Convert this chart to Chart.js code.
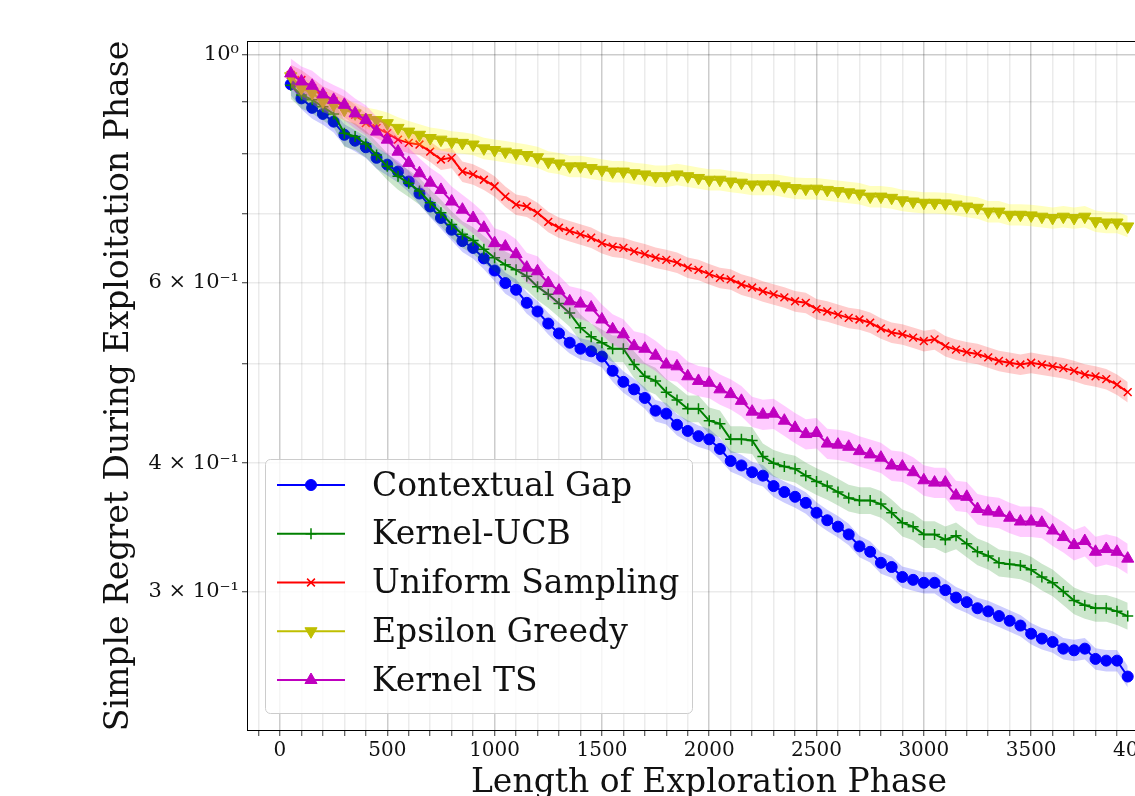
<!DOCTYPE html>
<html>
<head>
<meta charset="utf-8">
<script src="https://cdn.jsdelivr.net/npm/chart.js@4.4.1/dist/chart.umd.min.js"></script>
<style>
  html, body { margin: 0; padding: 0; background: #fff; overflow: hidden; }
  #wrap { width: 1180px; height: 800px; }
</style>
</head>
<body>
<div id="wrap"><canvas id="regretChart" width="1180" height="800"></canvas></div>
<script>
// length of exploration phase (x values)
const exploreLen = [
  50, 100, 150, 200, 250, 300, 350, 400, 450, 500,
  550, 600, 650, 700, 750, 800, 850, 900, 950, 1000,
  1050, 1100, 1150, 1200, 1250, 1300, 1350, 1400, 1450, 1500,
  1550, 1600, 1650, 1700, 1750, 1800, 1850, 1900, 1950, 2000,
  2050, 2100, 2150, 2200, 2250, 2300, 2350, 2400, 2450, 2500,
  2550, 2600, 2650, 2700, 2750, 2800, 2850, 2900, 2950, 3000,
  3050, 3100, 3150, 3200, 3250, 3300, 3350, 3400, 3450, 3500,
  3550, 3600, 3650, 3700, 3750, 3800, 3850, 3900, 3950
];

// simple regret
const contextualGap = [
  0.935, 0.906, 0.887, 0.875, 0.860, 0.835, 0.824, 0.812, 0.793, 0.781,
  0.769, 0.752, 0.732, 0.711, 0.693, 0.675, 0.658, 0.648, 0.633, 0.616,
  0.599, 0.590, 0.573, 0.562, 0.547, 0.535, 0.524, 0.517, 0.514, 0.508,
  0.492, 0.480, 0.472, 0.463, 0.450, 0.447, 0.436, 0.430, 0.425, 0.422,
  0.413, 0.402, 0.398, 0.392, 0.389, 0.380, 0.375, 0.371, 0.366, 0.358,
  0.352, 0.347, 0.341, 0.332, 0.328, 0.320, 0.317, 0.310, 0.308, 0.306,
  0.306, 0.301, 0.296, 0.293, 0.289, 0.287, 0.284, 0.281, 0.278, 0.273,
  0.270, 0.268, 0.264, 0.263, 0.264, 0.258, 0.257, 0.257, 0.248
];
const kernelUCB = [
  0.933, 0.913, 0.903, 0.889, 0.875, 0.838, 0.832, 0.818, 0.798, 0.778,
  0.761, 0.749, 0.736, 0.717, 0.701, 0.683, 0.668, 0.659, 0.646, 0.634,
  0.624, 0.617, 0.608, 0.594, 0.584, 0.572, 0.560, 0.542, 0.531, 0.524,
  0.517, 0.517, 0.499, 0.486, 0.481, 0.469, 0.461, 0.452, 0.452, 0.440,
  0.437, 0.422, 0.422, 0.421, 0.406, 0.400, 0.397, 0.395, 0.389, 0.384,
  0.380, 0.375, 0.370, 0.368, 0.368, 0.365, 0.358, 0.350, 0.347, 0.341,
  0.341, 0.337, 0.340, 0.334, 0.328, 0.325, 0.320, 0.319, 0.318, 0.315,
  0.310, 0.306, 0.300, 0.294, 0.291, 0.289, 0.289, 0.287, 0.284
];
const uniformSampling = [
  0.955, 0.944, 0.927, 0.910, 0.900, 0.889, 0.873, 0.857, 0.848, 0.838,
  0.826, 0.820, 0.817, 0.804, 0.790, 0.793, 0.769, 0.764, 0.755, 0.744,
  0.727, 0.714, 0.711, 0.701, 0.687, 0.678, 0.673, 0.668, 0.663, 0.655,
  0.650, 0.648, 0.643, 0.639, 0.634, 0.631, 0.627, 0.620, 0.617, 0.611,
  0.606, 0.604, 0.597, 0.593, 0.588, 0.584, 0.580, 0.575, 0.573, 0.565,
  0.562, 0.558, 0.554, 0.552, 0.548, 0.541, 0.536, 0.534, 0.530, 0.526,
  0.528, 0.520, 0.516, 0.513, 0.511, 0.507, 0.503, 0.501, 0.499, 0.501,
  0.499, 0.497, 0.495, 0.492, 0.488, 0.486, 0.483, 0.477, 0.469
];
const epsilonGreedy = [
  0.952, 0.927, 0.917, 0.900, 0.893, 0.883, 0.876, 0.867, 0.863, 0.857,
  0.848, 0.841, 0.835, 0.829, 0.826, 0.822, 0.820, 0.817, 0.810, 0.807,
  0.804, 0.801, 0.798, 0.794, 0.786, 0.783, 0.778, 0.778, 0.775, 0.772,
  0.769, 0.769, 0.766, 0.764, 0.761, 0.761, 0.764, 0.761, 0.758, 0.755,
  0.755, 0.752, 0.750, 0.747, 0.747, 0.747, 0.744, 0.741, 0.740, 0.740,
  0.738, 0.736, 0.734, 0.732, 0.727, 0.727, 0.725, 0.721, 0.719, 0.717,
  0.717, 0.716, 0.714, 0.711, 0.709, 0.703, 0.703, 0.698, 0.698, 0.697,
  0.695, 0.693, 0.695, 0.693, 0.695, 0.688, 0.686, 0.686, 0.680
];
const kernelTS = [
  0.958, 0.941, 0.932, 0.914, 0.903, 0.893, 0.876, 0.863, 0.841, 0.826,
  0.804, 0.784, 0.766, 0.750, 0.738, 0.719, 0.706, 0.693, 0.678, 0.655,
  0.650, 0.639, 0.620, 0.615, 0.599, 0.589, 0.575, 0.572, 0.567, 0.552,
  0.540, 0.534, 0.520, 0.517, 0.509, 0.499, 0.497, 0.486, 0.481, 0.479,
  0.472, 0.467, 0.460, 0.449, 0.446, 0.447, 0.440, 0.433, 0.427, 0.428,
  0.418, 0.417, 0.415, 0.411, 0.408, 0.405, 0.398, 0.397, 0.392, 0.385,
  0.383, 0.383, 0.372, 0.371, 0.361, 0.359, 0.358, 0.354, 0.351, 0.351,
  0.350, 0.344, 0.339, 0.333, 0.336, 0.328, 0.330, 0.328, 0.323
];

const seriesNames = ["Contextual Gap", "Kernel-UCB", "Uniform Sampling", "Epsilon Greedy", "Kernel TS"];
const seriesValues = [contextualGap, kernelUCB, uniformSampling, epsilonGreedy, kernelTS];
// relative half-width of the shaded band of each series
const bandSpread = [0.024, 0.03, 0.023, 0.024, 0.034];

const xTickLabels = [0, 500, 1000, 1500, 2000, 2500, 3000, 3500, 4000];
const yTickValues = [0.3, 0.4, 0.5, 0.6, 0.7, 0.8, 0.9, 1.0];
const yTickText = ["3 × 10⁻¹", "4 × 10⁻¹", "", "6 × 10⁻¹", "", "", "", "10⁰"];

const looks = [
  { color: "#0000ff", band: "rgba(0,0,255,0.2)",    point: "circle",   radius: 5.5, rot: 0,   bw: 1 },
  { color: "#008000", band: "rgba(0,128,0,0.2)",    point: "cross",    radius: 5.5, rot: 0,   bw: 1.5 },
  { color: "#ff0000", band: "rgba(255,0,0,0.2)",    point: "crossRot", radius: 5.5, rot: 0,   bw: 1.5 },
  { color: "#bfbf00", band: "rgba(255,255,0,0.25)", point: "triangle", radius: 7,   rot: 180, bw: 1 },
  { color: "#bf00bf", band: "rgba(255,0,255,0.2)",  point: "triangle", radius: 7,   rot: 0,   bw: 1 }
];

const MAJOR_GRID = "rgba(0,0,0,0.2)";
const MINOR_GRID = "rgba(0,0,0,0.08)";

// one band (upper + lower filled) and one line per series
const datasets = [];
seriesValues.forEach((vals, k) => {
  const lk = looks[k];
  const base = 10 - 2 * k;
  datasets.push({
    label: "_upper" + k,
    data: exploreLen.map((x, i) => ({ x: x, y: vals[i] * (1 + bandSpread[k]) })),
    borderWidth: 0, pointRadius: 0, fill: false, order: base
  });
  datasets.push({
    label: "_lower" + k,
    data: exploreLen.map((x, i) => ({ x: x, y: vals[i] * (1 - bandSpread[k]) })),
    borderWidth: 0, pointRadius: 0, fill: "-1", backgroundColor: lk.band, order: base
  });
  datasets.push({
    label: seriesNames[k],
    data: exploreLen.map((x, i) => ({ x: x, y: vals[i] })),
    borderColor: lk.color,
    borderWidth: 2,
    pointStyle: lk.point,
    pointRadius: lk.radius,
    pointRotation: lk.rot,
    pointBackgroundColor: lk.color,
    pointBorderColor: lk.color,
    pointBorderWidth: lk.bw,
    fill: false,
    tension: 0,
    order: base - 1
  });
});

// box around the plot (all four spines)
const frame = {
  id: "frame",
  afterDatasetsDraw(chart) {
    const a = chart.chartArea, ctx = chart.ctx;
    ctx.save();
    ctx.strokeStyle = "#000";
    ctx.lineWidth = 1;
    ctx.strokeRect(a.left - 0.5, a.top - 0.5, a.right - a.left + 1, a.bottom - a.top + 1);
    ctx.restore();
  }
};

// matplotlib-like legend in the lower left corner
const legendBox = {
  id: "legendBox",
  afterDraw(chart) {
    const ctx = chart.ctx;
    ctx.save();
    ctx.beginPath();
    ctx.roundRect(265.5, 459.5, 427, 254, 5);
    ctx.fillStyle = "rgba(255,255,255,0.8)";
    ctx.fill();
    ctx.strokeStyle = "#cccccc";
    ctx.lineWidth = 1;
    ctx.stroke();
    seriesNames.forEach((name, k) => {
      const lk = looks[k];
      const y = 485 + k * 48.75;
      ctx.beginPath();
      ctx.moveTo(277, y);
      ctx.lineTo(345, y);
      ctx.strokeStyle = lk.color;
      ctx.lineWidth = 2;
      ctx.stroke();
      ctx.fillStyle = lk.color;
      ctx.strokeStyle = lk.color;
      ctx.lineWidth = lk.bw;
      Chart.helpers.drawPoint(ctx, { pointStyle: lk.point, radius: lk.radius, rotation: lk.rot, borderWidth: lk.bw }, 311, y);
      ctx.fillStyle = "#111";
      ctx.font = "33px 'DejaVu Serif'";
      ctx.textBaseline = "middle";
      ctx.textAlign = "left";
      ctx.fillText(name, 372, y + 2);
    });
    ctx.restore();
  }
};

Chart.defaults.font.family = "'DejaVu Serif', serif";
Chart.defaults.color = "#111";

const ctx = document.getElementById("regretChart").getContext("2d");
new Chart(ctx, {
  type: "line",
  data: { datasets: datasets },
  options: {
    responsive: false,
    animation: false,
    devicePixelRatio: 1,
    layout: { padding: { left: 103, top: 42, right: 10, bottom: 0 } },
    plugins: {
      legend: { display: false },
      tooltip: { enabled: false }
    },
    scales: {
      x: {
        type: "linear",
        min: -149,
        max: 4147,
        afterBuildTicks: s => {
          const t = [];
          for (let v = -100; v <= 4100; v += 100) t.push({ value: v });
          s.ticks = t;
        },
        afterFit: s => { s.height = 70; },
        ticks: {
          autoSkip: false, maxRotation: 0, minRotation: 0, padding: 3,
          font: { size: 20 }, color: "#111",
          callback: v => xTickLabels.includes(v) ? String(v) : ""
        },
        grid: {
          color: c => (c.tick && c.tick.value % 500 === 0) ? MAJOR_GRID : MINOR_GRID,
          lineWidth: 1.5,
          tickLength: 6,
          tickColor: "#333",
          tickWidth: 1
        },
        border: { display: false },
        title: {
          display: true, text: "Length of Exploration Phase",
          font: { size: 33, lineHeight: 1 }, padding: 0, color: "#111"
        }
      },
      y: {
        type: "logarithmic",
        min: 0.2208,
        max: 1.028,
        afterBuildTicks: s => { s.ticks = yTickValues.map(v => ({ value: v })); },
        afterFit: s => { s.width = 145; },
        ticks: {
          autoSkip: false, padding: 3,
          font: { size: 21 }, color: "#111",
          callback: v => {
            const i = yTickValues.findIndex(t => Math.abs(t - v) < 1e-9);
            return i >= 0 ? yTickText[i] : "";
          }
        },
        grid: {
          color: c => (c.tick && Math.abs(c.tick.value - 1) < 1e-9) ? MAJOR_GRID : MINOR_GRID,
          lineWidth: 1.5,
          tickLength: 6,
          tickColor: "#333",
          tickWidth: 1
        },
        border: { display: false },
        title: {
          display: true, text: "Simple Regret During Exploitation Phase",
          font: { size: 33, lineHeight: 1 }, padding: 0, color: "#111"
        }
      }
    }
  },
  plugins: [frame, legendBox]
});
</script>
</body>
</html>
